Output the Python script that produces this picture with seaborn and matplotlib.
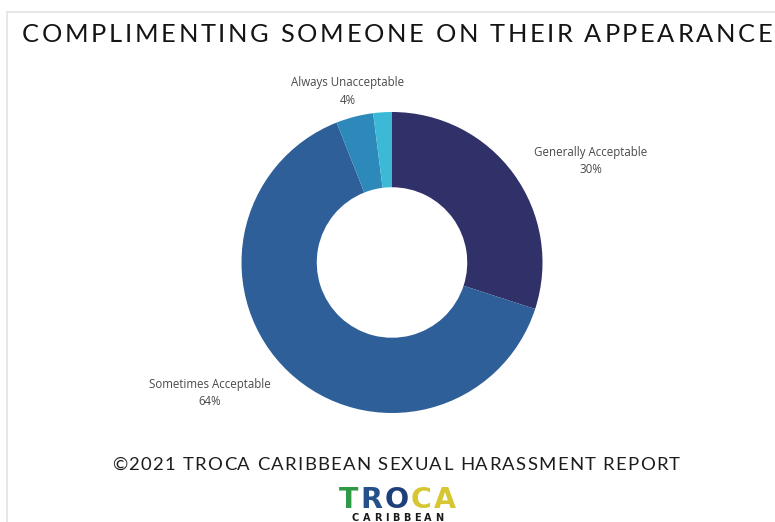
import matplotlib
matplotlib.use("Agg")
import numpy as np
import matplotlib.pyplot as plt
import seaborn as sns
from matplotlib.font_manager import FontProperties
from matplotlib.lines import Line2D

# Survey responses
categories = ["Generally Acceptable", "Sometimes Acceptable", "Always Unacceptable", "Other"]
values = [30, 64, 4, 2]
show_label = [True, True, True, False]
slice_colors = ["#2f3168", "#2e5f98", "#2d89b9", "#3cb9d7"]

title = "COMPLIMENTING SOMEONE ON THEIR APPEARANCE"
footer = "©2021 TROCA CARIBBEAN SEXUAL HARASSMENT REPORT"
logo_word = "TROCA"
logo_colors = ["#2f9a45", "#25508a", "#1f3f7a", "#d6c631", "#d6c631"]
logo_sub = "CARIBBEAN"

W, H = 775, 522
sns.set_theme(style="white")
plt.rcParams["font.family"] = ["Open Sans", "DejaVu Sans"]

fig = plt.figure(figsize=(W / 100, H / 100), dpi=100)
fig.patch.set_facecolor("white")


def fx(px):
    return px / W


def fy(py):
    return 1 - py / H


# card edge
fig.add_artist(Line2D([fx(7), fx(W)], [fy(12), fy(12)], color="#e4e4e4", lw=1.2))
fig.add_artist(Line2D([fx(7), fx(7)], [fy(12), fy(H)], color="#e4e4e4", lw=1.2))

# donut
cx, cy, r = 392, 262.5, 150.5
ax = fig.add_axes([fx(cx - r), fy(cy + r), 2 * r / W, 2 * r / H])
wedges, _ = ax.pie(
    values,
    colors=slice_colors,
    startangle=90,
    counterclock=False,
    radius=1.0,
    wedgeprops=dict(width=0.5, edgecolor="none", linewidth=0),
)
ax.set_xlim(-1, 1)
ax.set_ylim(-1, 1)
ax.set_aspect("equal")
ax.axis("off")

label_offsets = {
    "Generally Acceptable": (77, 13),
    "Sometimes Acceptable": (-79, -21),
    "Always Unacceptable": (-7, 25),
}
for w, cat, val, show in zip(wedges, categories, values, show_label):
    if not show:
        continue
    mid = np.deg2rad((w.theta1 + w.theta2) / 2)
    ax.annotate(
        f"{cat}\n{val}%",
        xy=(np.cos(mid), np.sin(mid)),
        xytext=label_offsets[cat],
        textcoords="offset pixels",
        ha="center", va="center",
        fontsize=8.3, color="#4a4a4a", linespacing=1.45,
        annotation_clip=False,
    )

# tracked (letter-spaced) text
fig.canvas.draw()
renderer = fig.canvas.get_renderer()


def advance(ch, prop):
    w1, _, _ = renderer.get_text_width_height_descent("H" + ch + "H", prop, ismath=False)
    w0, _, _ = renderer.get_text_width_height_descent("HH", prop, ismath=False)
    return w1 - w0


def tracked(text, x0, x1, baseline, prop, colors):
    adv = [advance(c, prop) for c in text]
    last_w, _, _ = renderer.get_text_width_height_descent(text[-1], prop, ismath=False)
    natural = sum(adv[:-1]) + last_w
    track = (x1 - x0 - natural) / (len(text) - 1)
    x = x0
    for c, a, col in zip(text, adv, colors):
        fig.text(fx(x), fy(baseline), c, fontproperties=prop, color=col,
                 ha="left", va="baseline")
        x += a + track


title_prop = FontProperties(family="Lato", size=18.3)
tracked(title, 22, 772, 41.5, title_prop, ["#141414"] * len(title))

foot_prop = FontProperties(family="Lato", size=13.3)
tracked(footer, 112, 680, 470, foot_prop, ["#1c1c1c"] * len(footer))

logo_prop = FontProperties(family="DejaVu Sans", weight="bold", size=20.5)
tracked(logo_word, 339, 456, 508.5, logo_prop, logo_colors)

sub_prop = FontProperties(family="DejaVu Sans", weight="bold", size=7)
tracked(logo_sub, 352, 443, 521, sub_prop, ["#1a1a1a"] * len(logo_sub))

fig.savefig("out.png", dpi=100, facecolor="white")
